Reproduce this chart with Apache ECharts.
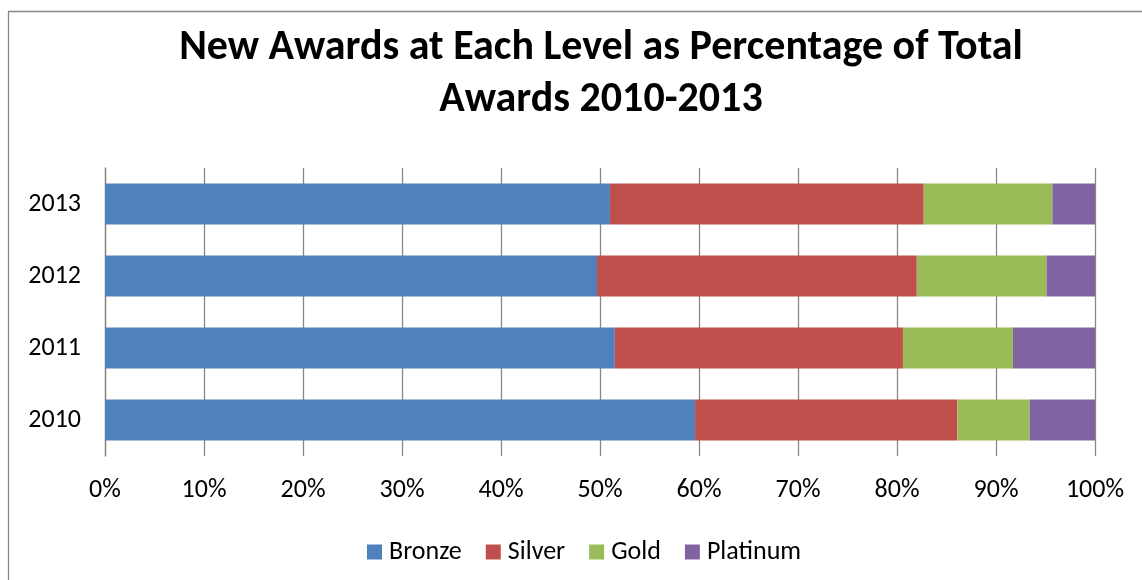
<!DOCTYPE html>
<html>
<head>
<meta charset="utf-8">
<script src="https://cdn.jsdelivr.net/npm/echarts@6/dist/echarts.min.js"></script>
<style>
  html, body { margin: 0; padding: 0; background: #ffffff; }
  #chart { width: 1142px; height: 580px; }
</style>
</head>
<body>
<div id="chart"></div>
<script>
// Share of new awards at each level, per year (percent of total)
const years = ['2010', '2011', '2012', '2013'];
const bronze   = [59.6, 51.5, 49.7, 51.0];
const silver   = [26.5, 29.1, 32.3, 31.7];
const gold     = [7.3, 11.1, 13.1, 13.0];
const platinum = [6.6, 8.3, 4.9, 4.3];
const levelNames = ['Bronze', 'Silver', 'Gold', 'Platinum'];
const levelColors = ['#4F81BD', '#C0504D', '#9BBB59', '#8064A2'];

const FONT = 'Carlito, Calibri, "Liberation Sans", sans-serif';

const chart = echarts.init(document.getElementById('chart'), null, { renderer: 'canvas' });

const seriesData = [bronze, silver, gold, platinum];

chart.setOption({
  backgroundColor: '#ffffff',
  animation: false,
  textStyle: { fontFamily: FONT },
  title: {
    text: 'New Awards at Each Level as Percentage of Total\nAwards 2010-2013',
    left: 596,
    top: 17,
    textAlign: 'center',
    textStyle: {
      fontFamily: FONT,
      fontSize: 42,
      fontWeight: 'bold',
      color: '#000000',
      lineHeight: 52
    }
  },
  legend: {
    data: levelNames,
    left: 362,
    top: 534,
    itemWidth: 15,
    itemHeight: 15,
    itemGap: 24,
    icon: 'rect',
    textStyle: { fontFamily: FONT, fontSize: 26, color: '#000000', padding: [0, 0, 0, 2] }
  },
  grid: {
    left: 105,
    right: 47,
    top: 168,
    height: 288,
    containLabel: false
  },
  xAxis: {
    type: 'value',
    min: 0,
    max: 100,
    interval: 10,
    axisLine: { show: false },
    axisTick: { show: false },
    axisLabel: {
      formatter: '{value}%',
      fontFamily: FONT,
      fontSize: 26,
      color: '#000000',
      margin: 21
    },
    splitLine: { show: true, lineStyle: { color: '#888888', width: 1.3 } }
  },
  yAxis: {
    type: 'category',
    data: years,
    axisLine: { show: true, lineStyle: { color: '#888888', width: 1.3 } },
    axisTick: { show: false },
    axisLabel: {
      fontFamily: FONT,
      fontSize: 26,
      color: '#000000',
      margin: 24
    }
  },
  series: levelNames.map((name, i) => ({
    name: name,
    type: 'bar',
    stack: 'total',
    barWidth: 41,
    data: seriesData[i],
    itemStyle: { color: levelColors[i] }
  })),
  graphic: [{
    type: 'rect',
    silent: true,
    shape: { x: 8.5, y: 11.5, width: 2000, height: 2000 },
    style: { fill: 'none', stroke: '#888888', lineWidth: 1.3 }
  }]
});
</script>
</body>
</html>
